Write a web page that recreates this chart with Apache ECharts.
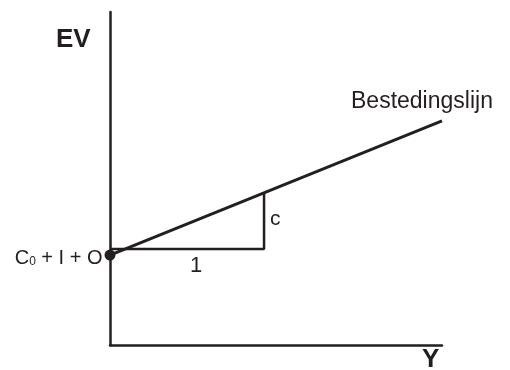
<!DOCTYPE html>
<html>
<head>
<meta charset="utf-8">
<script src="https://cdn.jsdelivr.net/npm/echarts@6/dist/echarts.min.js"></script>
<style>
  html, body { margin: 0; padding: 0; background: #fff; }
  #chart { width: 510px; height: 370px; }
</style>
</head>
<body>
<div id="chart"></div>
<script>
// values (arbitrary units, axes run 0..10)
const lineX = [0, 10];
const lineY = [2.7, 6.73];
const triX = [0, 4.64, 4.64];
const triY = [2.88, 2.88, 4.57];
const dot = [0, 2.7];

const ink = '#231f20';
const font = '"Liberation Sans", Arial, sans-serif';

const chart = echarts.init(document.getElementById('chart'));

const hiddenAxis = {
  type: 'value',
  min: 0,
  max: 10,
  axisLine: { show: true, lineStyle: { color: ink, width: 2.5 } },
  axisTick: { show: false },
  axisLabel: { show: false },
  splitLine: { show: false }
};

chart.setOption({
  animation: false,
  grid: { left: 110, right: 68, top: 12, bottom: 25 },
  xAxis: hiddenAxis,
  yAxis: hiddenAxis,
  graphic: [
    { type: 'text', left: 56, top: 27,
      style: { text: 'EV', font: 'bold 26px ' + font, fill: ink } },
    { type: 'text', left: 422, top: 347,
      style: { text: 'Y', font: 'bold 26px ' + font, fill: ink } },
    { type: 'text', left: 351, top: 90,
      style: { text: 'Bestedingslijn', font: '23px ' + font, fill: ink } },
    { type: 'text', left: 270, top: 209,
      style: { text: 'c', font: '21px ' + font, fill: ink } },
    { type: 'text', left: 190, top: 255,
      style: { text: '1', font: '22px ' + font, fill: ink } }
  ],
  series: [
    {
      type: 'line',
      data: lineX.map((x, i) => [x, lineY[i]]),
      symbol: 'none',
      lineStyle: { color: ink, width: 3 },
      clip: false
    },
    {
      type: 'line',
      data: triX.map((x, i) => [x, triY[i]]),
      symbol: 'none',
      lineStyle: { color: ink, width: 2.5 },
      clip: false
    },
    {
      type: 'scatter',
      data: [dot],
      symbolSize: 11,
      itemStyle: { color: ink, opacity: 1 },
      clip: false,
      label: {
        show: true,
        position: 'left',
        distance: 2,
        offset: [0, 3],
        formatter: '{a|C}{s|0}{a| + I + O}',
        rich: {
          a: { fontFamily: font, fontSize: 20, color: ink },
          s: { fontFamily: font, fontSize: 12, color: ink, verticalAlign: 'bottom', padding: [7, 0, 0, 0] }
        }
      }
    }
  ]
});
</script>
</body>
</html>
